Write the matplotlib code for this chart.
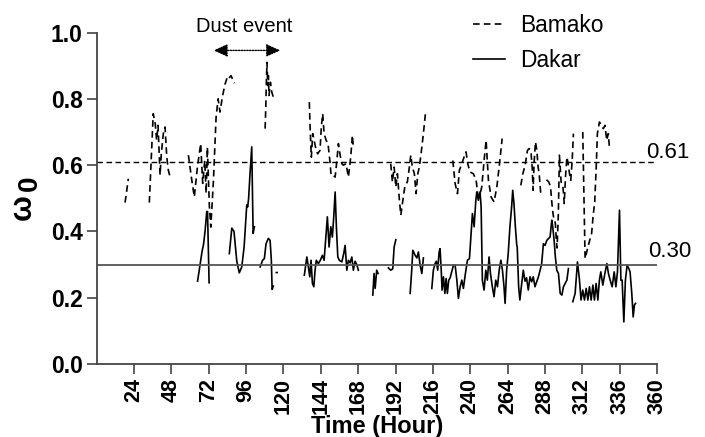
import numpy as np
import matplotlib
matplotlib.use("Agg")
import matplotlib.pyplot as plt

plt.rcParams['font.family'] = ['Liberation Sans', 'DejaVu Sans']

nan = np.nan

# Bamako (dashed) - hours / single scattering albedo, gaps as nan
bamako_hours = [18.2, 19.2, 20.3, nan,
                33.8, 36.3, 37.6, 38.5, 39.4, 40.7, 41.5, 42.8, 43.9, 45.0, 46.0, 47.1, nan,
                58.9, 61.1, 62.7, 64.7, 66.8, 68.1, 69.4, 70.3, 71.1, 72.4, 73.3, 75.0, 76.7, 78.0,
                79.2, 80.9, 82.5, 83.9, 84.6, 86.3, 88.4, nan,
                108.2, 108.6, 109.0, 109.4, 109.9, 110.3, 110.7, 111.6, 112.5, 113.8, nan,
                136.6, 137.1, 137.9, 138.8, 139.7, 141.0, 142.0, 143.5, 144.3, 145.2, 146.1, 147.4,
                148.6, 149.9, 150.6, 151.7, 153.2, 154.2, 155.3, 156.4, 157.5, 158.5, 160.2, 161.7,
                163.2, 164.3, 164.9, nan,
                188.9, 190.0, 191.1, 192.2, 193.2, 194.5, 195.4, 196.7, 198.1, 199.6, 200.9, 201.8,
                202.8, 204.1, 205.2, 206.3, 207.3, 208.4, 209.9, 211.4, nan,
                228.8, 230.3, 231.8, 233.0, 234.6, 236.0, 237.3, 238.4, 239.9, 242.0, 243.8, 244.8,
                245.9, 247.4, 248.9, 250.2, 251.7, 253.4, 255.3, 257.1, 258.8, 260.5, nan,
                272.5, 273.8, 275.3, 276.8, 278.0, 279.1, 279.8, 280.4, 281.0, 281.9, 282.8, 283.6,
                284.3, 285.3, nan,
                289.0, 290.5, 291.6, 292.3, 292.9, 293.5, 294.7, 295.3, 295.8, 296.6, 297.3, 298.4,
                299.5, 300.4, 301.2, 302.1, 302.9, 303.8, 304.6, 305.5, 306.3, nan,
                312.3, 313.8, 316.0, 318.0, 318.9, 320.0, 321.0, 321.7, 323.0, 324.5, 325.5, 326.6,
                327.7, 328.7, 329.5]
bamako_w0 = [0.487, 0.52, 0.559, nan,
             0.487, 0.755, 0.725, 0.675, 0.72, 0.57, 0.635, 0.695, 0.715, 0.625, 0.585, 0.565, nan,
             0.63, 0.554, 0.504, 0.594, 0.665, 0.545, 0.614, 0.515, 0.654, 0.474, 0.413, 0.554, 0.745, 0.80,
             0.76, 0.81, 0.845, 0.865, 0.86, 0.87, 0.847, nan,
             0.71, 0.77, 0.85, 0.91, 0.84, 0.87, 0.81, 0.85, 0.82, 0.80, nan,
             0.79, 0.715, 0.624, 0.695, 0.675, 0.645, 0.634, 0.645, 0.715, 0.755, 0.695, 0.675,
             0.665, 0.609, 0.569, 0.569, 0.564, 0.609, 0.665, 0.63, 0.604, 0.60, 0.604, 0.564,
             0.624, 0.69, 0.654, nan,
             0.604, 0.549, 0.594, 0.534, 0.574, 0.494, 0.449, 0.494, 0.539, 0.549, 0.594, 0.63,
             0.594, 0.574, 0.514, 0.574, 0.594, 0.634, 0.695, 0.765, nan,
             0.614, 0.544, 0.514, 0.584, 0.604, 0.624, 0.64, 0.604, 0.579, 0.574, 0.554, 0.514,
             0.504, 0.534, 0.614, 0.675, 0.554, 0.504, 0.489, 0.534, 0.604, 0.68, nan,
             0.539, 0.574, 0.60, 0.645, 0.65, 0.635, 0.594, 0.524, 0.604, 0.67, 0.645, 0.594,
             0.574, 0.514, nan,
             0.556, 0.549, 0.534, 0.494, 0.464, 0.444, 0.424, 0.373, 0.35, 0.45, 0.63, 0.549,
             0.539, 0.484, 0.564, 0.624, 0.604, 0.574, 0.554, 0.614, 0.695, nan,
             0.70, 0.318, 0.36, 0.394, 0.444, 0.49, 0.60, 0.695, 0.73, 0.72, 0.71, 0.72,
             0.675, 0.695, 0.65]

# Dakar (solid)
dakar_hours = [64.8, 66.4, 67.7, 68.6, 69.6, 70.7, 71.2, 72.2, nan,
               85.2, 86.8, 88.2, 90.0, 91.6, 93.2, 94.7, 95.6, 96.4, 97.0, 97.6, 98.5, 99.6, 100.5, 101.3, nan,
               105.0, 106.6, 107.7, 108.8, 110.3, 111.4, 112.2, 112.7, 113.5, nan,
               115.4, 115.9, nan,
               133.4, 135.0, 136.0, 136.9, 137.7, 138.6, 139.5, 140.3, 141.1, 142.4, 143.7, 145.0,
               146.1, 147.2, 148.2, 149.3, 150.4, 151.4, 152.3, 153.2, 154.0, 154.9, 155.9, 157.5,
               158.7, 159.6, 160.7, 161.7, 162.8, 163.9, 164.9, 166.0, 167.1, 168.1, nan,
               177.4, 178.2, 178.9, 179.9, 180.8, nan,
               187.4, 188.9, 190.2, 191.1, 192.2, nan,
               201.4, 202.4, 203.1, 204.6, 205.7, 206.7, 207.8, 208.9, 209.9, nan,
               215.3, 216.3, 217.4, 218.2, 219.1, 220.0, 220.6, 221.3, 221.9, 222.8, 223.7, 224.5,
               225.3, 226.2, 227.1, 228.1, 229.2, 230.3, 231.4, 232.4, 233.5, 234.6, 235.6, 236.9,
               238.2, 239.5, 240.4, 241.4, 242.5, 243.6, 244.2, 245.2, 246.3, 247.0, 247.8, 248.9,
               250.0, 251.0, 252.1, 253.0, 254.2, 255.3, 256.4, 257.5, 258.6, 259.7, 260.7, 261.7,
               262.4, 263.4, 264.4, 265.5, 266.6, 267.3, 268.1, 269.0, 269.9, 270.2, 271.1, 271.9,
               273.0, 274.1, 275.2, 276.2, 277.3, 278.4, 279.5, 280.5, 281.6, 282.7, 283.8, 284.9,
               285.9, 287.0, 288.1, 289.2, 290.2, 291.3, 292.4, 293.0, 293.9, 294.7, 295.6, 296.7,
               297.8, 298.9, 299.9, 301.0, 302.1, 303.1, nan,
               305.9, 307.4, 308.9, 310.1, 311.2, 312.3, 313.4, 314.5, 315.6, 316.6, 317.7, 318.8,
               319.8, 320.9, 322.0, 323.0, 323.9, 325.2, 326.5, 327.8, 328.8, 329.9, 331.2, 332.5,
               333.6, 334.6, 335.9, 336.8, 337.6, 338.7, 339.7, 340.8, 341.9, 342.7, 343.8, 344.7,
               345.5, 346.2]
dakar_w0 = [0.25, 0.30, 0.34, 0.36, 0.40, 0.46, 0.46, 0.245, nan,
            0.333, 0.41, 0.40, 0.31, 0.275, 0.293, 0.353, 0.42, 0.48, 0.474, 0.50, 0.574, 0.655, 0.394, 0.414, nan,
            0.293, 0.313, 0.318, 0.363, 0.379, 0.373, 0.313, 0.225, 0.235, nan,
            0.276, 0.276, nan,
            0.268, 0.323, 0.293, 0.263, 0.313, 0.243, 0.233, 0.283, 0.313, 0.303, 0.313, 0.328,
            0.313, 0.383, 0.444, 0.353, 0.414, 0.383, 0.444, 0.519, 0.414, 0.323, 0.313, 0.308,
            0.333, 0.358, 0.283, 0.313, 0.305, 0.323, 0.283, 0.31, 0.30, 0.283, nan,
            0.208, 0.273, 0.228, 0.283, 0.273, nan,
            0.29, 0.283, 0.287, 0.353, 0.375, nan,
            0.213, 0.283, 0.343, 0.328, 0.32, 0.338, 0.298, 0.273, 0.32, nan,
            0.228, 0.283, 0.303, 0.31, 0.283, 0.338, 0.348, 0.29, 0.223, 0.263, 0.213, 0.258,
            0.213, 0.253, 0.26, 0.278, 0.298, 0.298, 0.253, 0.198, 0.233, 0.253, 0.228, 0.273,
            0.313, 0.318, 0.383, 0.454, 0.414, 0.494, 0.519, 0.494, 0.519, 0.474, 0.253, 0.223,
            0.283, 0.253, 0.323, 0.273, 0.233, 0.203, 0.253, 0.233, 0.283, 0.313, 0.283, 0.233,
            0.183, 0.283, 0.333, 0.414, 0.474, 0.524, 0.484, 0.414, 0.358, 0.353, 0.233, 0.193,
            0.24, 0.283, 0.25, 0.26, 0.223, 0.263, 0.248, 0.263, 0.233, 0.248, 0.263, 0.283,
            0.303, 0.363, 0.358, 0.373, 0.378, 0.383, 0.434, 0.414, 0.373, 0.323, 0.283, 0.273,
            0.213, 0.208, 0.233, 0.243, 0.253, 0.288, nan,
            0.188, 0.213, 0.308, 0.258, 0.193, 0.223, 0.193, 0.228, 0.193, 0.233, 0.193, 0.238,
            0.193, 0.243, 0.193, 0.253, 0.278, 0.238, 0.273, 0.303, 0.273, 0.253, 0.233, 0.278,
            0.233, 0.278, 0.464, 0.253, 0.253, 0.127, 0.253, 0.298, 0.288, 0.278, 0.213, 0.142,
            0.178, 0.183]

ref_levels = [0.61, 0.30]
ref_labels = ['0.61', '0.30']
x_ticks = list(range(24, 361, 24))
y_ticks = [0.0, 0.2, 0.4, 0.6, 0.8, 1.0]

fig = plt.figure(figsize=(7.05, 4.37), dpi=100)
ax = fig.add_axes([0.1372, 0.167, 0.7947, 0.7586])

ln_b, = ax.plot(bamako_hours, bamako_w0, color='black', lw=1.2, linestyle=(0, (4, 2.5)), label='Bamako')
ln_d, = ax.plot(dakar_hours, dakar_w0, color='black', lw=1.2, label='Dakar')

# reference levels
ax.axhline(ref_levels[0], color='black', lw=1.0, linestyle=(0, (4, 2.5)))
ax.axhline(ref_levels[1], color='#555555', lw=1.3)
ax.text(353.0, ref_levels[0] + 0.012, ref_labels[0], fontsize=16, ha='left', va='baseline')
ax.text(354.5, ref_levels[1] + 0.022, ref_labels[1], fontsize=16, ha='left', va='baseline')

# dust event
ax.annotate('', xy=(75, 0.946), xytext=(118, 0.946),
            arrowprops=dict(arrowstyle='<|-|>,head_length=0.85,head_width=0.38', color='black',
                            lw=1.0, linestyle=(0, (1, 1)), shrinkA=0, shrinkB=0),
            annotation_clip=False)
ax.text(94.7, 1.018, 'Dust event', fontsize=14.5, ha='center', va='center')

ax.set_xlim(0, 360)
ax.set_ylim(0, 1.0)
ax.set_xticks(x_ticks)
ax.set_xticklabels([str(t) for t in x_ticks], rotation=90, fontsize=15.5, fontweight='bold')
ax.set_yticks(y_ticks)
ax.set_yticklabels(['%.1f' % v for v in y_ticks], fontsize=16.5, fontweight='bold')
ax.tick_params(direction='out', length=7, width=1.2, color='#444444', pad=3)

for s in ['top', 'right']:
    ax.spines[s].set_visible(False)
for s in ['left', 'bottom']:
    ax.spines[s].set_color('#444444')
    ax.spines[s].set_linewidth(1.3)

ax.set_xlabel('Time (Hour)', fontsize=17, fontweight='bold', labelpad=1)

# y label: omega with subscript 0
fig.text(0.0326, 0.526, 'ω', fontsize=22, fontweight='bold', rotation=90, ha='center', va='center')
fig.text(0.0426, 0.580, '0', fontsize=20, fontweight='bold', rotation=90, ha='center', va='center')

ax.legend(handles=[ln_b, ln_d], loc='upper left', bbox_to_anchor=(0.672, 1.055),
          frameon=False, fontsize=16.4, handlelength=1.4, handletextpad=0.65,
          labelspacing=0.5, borderpad=0, borderaxespad=0)

fig.savefig('out.png', dpi=100)
